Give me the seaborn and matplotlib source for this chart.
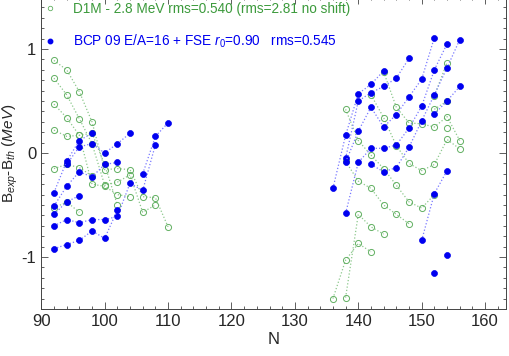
import matplotlib
matplotlib.use("Agg")
import matplotlib.pyplot as plt
from matplotlib.lines import Line2D
from matplotlib.ticker import MultipleLocator
import pandas as pd
import seaborn as sns

# ---------------- data ----------------
# D1M (green, open circles) isotopic chains: (N list, B_exp-B_th list)
d1m_chains = [
    ([92, 94, 96, 98, 100, 102, 104, 106, 108, 110], [0.89, 0.80, 0.59, 0.30, -0.16, -0.15, -0.16, -0.42, -0.43, -0.71]),
    ([92, 94, 96, 98, 100, 102, 104, 106, 108], [0.72, 0.56, 0.33, 0.09, -0.31, -0.28, -0.21, -0.57, -0.50]),
    ([92, 94, 96, 98, 100, 102, 104], [0.47, 0.34, 0.17, -0.30, -0.32, -0.40, -0.42]),
    ([92, 94, 96, 98, 100, 102], [0.22, 0.16, 0.17, 0.19, -0.11, -0.50]),
    ([92, 94, 96, 98], [-0.15, -0.11, -0.14, -0.22]),
    ([92, 94, 96], [-0.53, -0.47, -0.57]),
    ([136, 138, 140, 142], [-1.40, -1.03, -0.87, -0.95]),
    ([138, 140, 142, 144], [-1.39, -0.59, -0.71, -0.78]),
    ([138, 140, 142, 144, 146, 148], [-0.08, -0.27, -0.34, -0.50, -0.59, -0.68]),
    ([138, 140, 142, 144, 146, 148, 150, 152], [0.42, 0.12, -0.02, -0.15, -0.31, -0.47, -0.53, -0.40]),
    ([142, 144, 146, 148, 150, 152, 154, 156], [0.56, 0.34, 0.07, -0.10, -0.17, -0.11, 0.13, 0.04]),
    ([144, 146, 148, 150, 152, 154, 156], [0.78, 0.44, 0.29, 0.28, 0.25, 0.35, 0.12]),
    ([152, 154], [0.55, 0.87]),
    ([152, 154], [0.42, 0.50]),
    ([154], [0.24]),
]

# BCP 09 (blue, filled circles) isotopic chains
bcp_chains = [
    ([94, 96, 98, 100, 102, 104], [-0.11, 0.06, 0.09, 0.00, 0.09, 0.19]),
    ([92, 94, 96, 98], [-0.38, -0.08, 0.12, 0.19]),
    ([92, 94, 96, 98, 100, 102], [-0.51, -0.32, -0.18, -0.23, -0.11, -0.09]),
    ([92, 94, 96], [-0.59, -0.47, -0.41]),
    ([92, 94, 96, 98, 100, 102, 104, 106, 108], [-0.70, -0.64, -0.67, -0.64, -0.64, -0.61, -0.29, -0.36, 0.08]),
    ([92, 94, 96, 98, 100, 102], [-0.92, -0.88, -0.84, -0.75, -0.82, -0.55]),
    ([106, 108, 110], [-0.20, 0.16, 0.29]),
    ([136, 138, 140, 142, 144], [-0.34, 0.17, 0.57, 0.66, 0.79]),
    ([138, 140, 142, 144, 146, 148], [-0.05, 0.50, 0.58, 0.64, 0.72, 0.91]),
    ([138, 140, 142, 144, 146, 148, 150, 152], [-0.09, 0.21, 0.44, 0.25, 0.37, 0.54, 0.71, 1.11]),
    ([138, 140, 142, 144, 146, 148, 150, 152, 154], [-0.58, -0.09, 0.045, 0.045, 0.077, 0.24, 0.45, 0.80, 1.05]),
    ([142, 144, 146, 148, 150, 152, 154, 156], [-0.11, -0.18, -0.14, 0.055, 0.31, 0.56, 0.82, 1.09]),
    ([150, 152, 154], [-0.84, -0.39, -0.17]),
    ([152, 154, 156], [0.375, 0.50, 0.64]),
    ([152], [-1.15]),
    ([154], [-0.98]),
]

label_d1m = "D1M - 2.8 MeV rms=0.540 (rms=2.81 no shift)"
label_bcp = "BCP 09 E/A=16 + FSE $r_0$=0.90   rms=0.545"
x_ticks = [90, 100, 110, 120, 130, 140, 150, 160]
y_ticks = [-1, 0, 1]


def to_frame(chains, model):
    rows = []
    for i, (ns, vs) in enumerate(chains):
        for n, v in zip(ns, vs):
            rows.append({"model": model, "chain": f"{model}{i}", "N": n, "dB": v})
    return pd.DataFrame(rows)


df_d1m = to_frame(d1m_chains, "D1M")
df_bcp = to_frame(bcp_chains, "BCP")

# ---------------- style ----------------
sns.set_style("ticks")
plt.rcParams["font.family"] = ["Liberation Sans", "DejaVu Sans"]
plt.rcParams["mathtext.fontset"] = "custom"
plt.rcParams["mathtext.rm"] = "Liberation Sans"
plt.rcParams["mathtext.it"] = "Liberation Sans:italic"
plt.rcParams["axes.unicode_minus"] = False

GREEN_TXT = "#3c9a3c"
GREEN_MK = "#62b062"
GREEN_LN = "#8cc88c"
BLUE_MK = "#0000f0"
BLUE_LN = "#7878ff"

fig = plt.figure(figsize=(5.09, 3.56), dpi=100)
ax = fig.add_axes([0.0811, 0.132, 0.9124, 0.8764])

sns.lineplot(data=df_d1m, x="N", y="dB", units="chain", estimator=None, sort=True,
             color=GREEN_LN, linestyle=":", linewidth=0.9, marker="o", markersize=4.4,
             markerfacecolor="none", markeredgecolor=GREEN_MK, markeredgewidth=0.7,
             legend=False, ax=ax)
sns.lineplot(data=df_bcp, x="N", y="dB", units="chain", estimator=None, sort=True,
             color=BLUE_LN, linestyle=":", linewidth=0.9, marker="o", markersize=4.3,
             markerfacecolor=BLUE_MK, markeredgecolor=BLUE_MK, markeredgewidth=0.5,
             legend=False, ax=ax)

ax.set_xlim(90, 163.25)
ax.set_ylim(-1.5, 1.5)
ax.set_xticks(x_ticks)
ax.set_yticks(y_ticks)
ax.xaxis.set_minor_locator(MultipleLocator(2))
ax.yaxis.set_minor_locator(MultipleLocator(0.1))
ax.tick_params(which="both", direction="in", top=True, right=True, color="#444444", width=0.6)
ax.tick_params(which="major", length=5, labelsize=12)
ax.tick_params(which="minor", length=2.5)
for s in ax.spines.values():
    s.set_linewidth(0.7)
    s.set_color("#444444")

ax.set_xlabel("N", fontsize=12, labelpad=2)
ax.set_ylabel(r"B$_{exp}$-B$_{th}$ $(MeV)$", fontsize=11, labelpad=1)

handles = [
    Line2D([], [], marker="o", linestyle="none", markersize=3.2, markerfacecolor="none",
           markeredgecolor=GREEN_MK, markeredgewidth=0.6),
    Line2D([], [], marker="o", linestyle="none", markersize=3.2, markerfacecolor=BLUE_MK,
           markeredgecolor=BLUE_MK),
]
leg = ax.legend(handles, [label_d1m, label_bcp], loc="upper left",
                bbox_to_anchor=(0.005, 0.984), frameon=False, fontsize=9.8,
                handlelength=1.0, handletextpad=1.15, labelspacing=1.2, borderpad=0.0,
                borderaxespad=0.0)
leg.get_texts()[0].set_color(GREEN_TXT)
leg.get_texts()[1].set_color(BLUE_MK)

fig.savefig("out.png", dpi=100)
